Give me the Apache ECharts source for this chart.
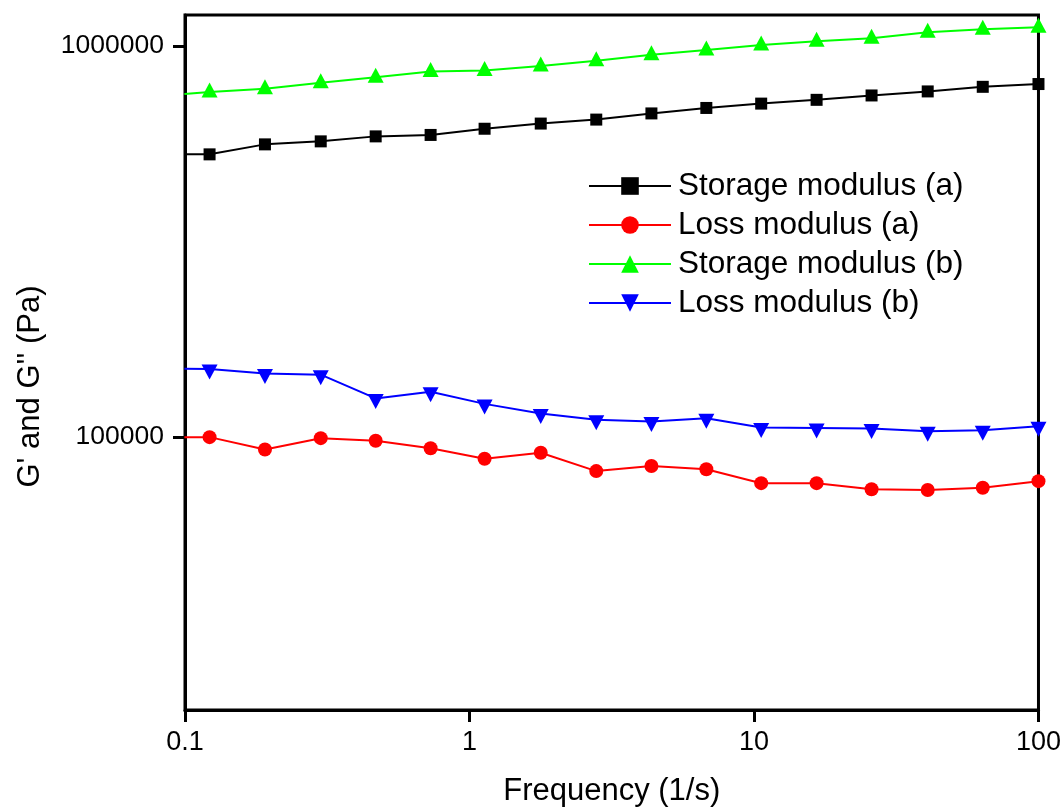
<!DOCTYPE html>
<html>
<head>
<meta charset="utf-8">
<script src="https://cdn.jsdelivr.net/npm/echarts@6/dist/echarts.min.js"></script>
<style>
    html, body { margin: 0; padding: 0; background: #fff; }
    #chart { width: 1064px; height: 812px; }
</style>
</head>
<body>
<div id="chart"></div>
<script>
// frequency (1/s), first point sits just left of the axis (line runs into the frame)
var freq = [0.0995, 0.122, 0.191, 0.300, 0.468, 0.730, 1.13, 1.78, 2.79, 4.36, 6.80, 10.6, 16.6, 25.9, 40.8, 63.7, 100];
var storageA = [528000, 528000, 560000, 570000, 587000, 592000, 614000, 633000, 648000, 672000, 694000, 712000, 728000, 747000, 765000, 786000, 799000];
var lossA = [99800, 99800, 92800, 99200, 97700, 93500, 87900, 91000, 81700, 84200, 82600, 76100, 76100, 73400, 73100, 74100, 77000];
var storageB = [753000, 762000, 777000, 805000, 832000, 860000, 865000, 888000, 917000, 950000, 977000, 1006000, 1028000, 1046000, 1084000, 1103000, 1116000];
var lossB = [149300, 149100, 145300, 144200, 125400, 130400, 121400, 114700, 110500, 109400, 111500, 105600, 105400, 105000, 103300, 103900, 106400];

var xTicks = [0.1, 1, 10, 100];
var yTicks = [100000, 1000000];

var FONT = '"Liberation Sans", Arial, sans-serif';

function pairs(ys) {
    return freq.map(function (f, i) { return [f, ys[i]]; });
}

var myChart = echarts.init(document.getElementById('chart'));

var option = {
    animation: false,
    backgroundColor: '#fff',
    textStyle: { fontFamily: FONT },
    grid: {
        left: 185,
        right: 25,
        top: 15,
        bottom: 102,
        show: true,
        borderColor: '#000',
        borderWidth: 3
    },
    legend: {
        orient: 'vertical',
        left: 583,
        top: 165,
        itemWidth: 82,
        itemHeight: 22,
        itemGap: 7,
        textStyle: { fontSize: 31.5, color: '#000', fontFamily: FONT, padding: [0, 0, 0, 2] },
        data: ['Storage modulus (a)', 'Loss modulus (a)', 'Storage modulus (b)', 'Loss modulus (b)']
    },
    xAxis: {
        type: 'log',
        min: 0.1,
        max: 100,
        name: 'Frequency (1/s)',
        nameLocation: 'middle',
        nameGap: 66,
        nameTextStyle: { fontSize: 31, color: '#000', fontFamily: FONT },
        axisLine: { lineStyle: { color: '#000', width: 3 } },
        axisTick: { inside: false, length: 12, lineStyle: { color: '#000', width: 3 }, customValues: xTicks },
        minorTick: { show: false },
        splitLine: { show: false },
        axisLabel: {
            fontSize: 27,
            color: '#000',
            margin: 19,
            customValues: xTicks,
            formatter: function (v) { return String(+v.toPrecision(4)); }
        }
    },
    yAxis: {
        type: 'log',
        min: 20000,
        max: 1200000,
        name: "G' and G'' (Pa)",
        nameLocation: 'middle',
        nameGap: 139,
        nameTextStyle: { fontSize: 31, color: '#000', fontFamily: FONT, padding: [0, 48, 0, 0] },
        axisLine: { lineStyle: { color: '#000', width: 3 } },
        axisTick: { inside: false, length: 12, lineStyle: { color: '#000', width: 3 }, customValues: yTicks },
        minorTick: { show: false },
        splitLine: { show: false },
        axisLabel: {
            fontSize: 26.5,
            color: '#000',
            margin: 21,
            customValues: yTicks,
            formatter: function (v) { return String(Math.round(v)); }
        }
    },
    series: [
        {
            name: 'Storage modulus (a)',
            type: 'line',
            data: pairs(storageA),
            symbol: 'rect',
            symbolSize: 12,
            itemStyle: { color: '#000' },
            lineStyle: { color: '#000', width: 2 }
        },
        {
            name: 'Loss modulus (a)',
            type: 'line',
            data: pairs(lossA),
            symbol: 'circle',
            symbolSize: 14,
            itemStyle: { color: '#ff0000' },
            lineStyle: { color: '#ff0000', width: 2 }
        },
        {
            name: 'Storage modulus (b)',
            type: 'line',
            data: pairs(storageB),
            symbol: 'triangle',
            symbolSize: [16, 15],
            symbolOffset: [0, -2],
            itemStyle: { color: '#00ff00' },
            lineStyle: { color: '#00ff00', width: 2 }
        },
        {
            name: 'Loss modulus (b)',
            type: 'line',
            data: pairs(lossB),
            symbol: 'path://M0,0 L10,0 L5,9.4 Z',
            symbolSize: [16, 15],
            symbolOffset: [0, 3],
            itemStyle: { color: '#0000ff' },
            lineStyle: { color: '#0000ff', width: 2 }
        }
    ]
};

myChart.setOption(option);
window.addEventListener('resize', function () {
    myChart.resize();
});
</script>
</body>
</html>
